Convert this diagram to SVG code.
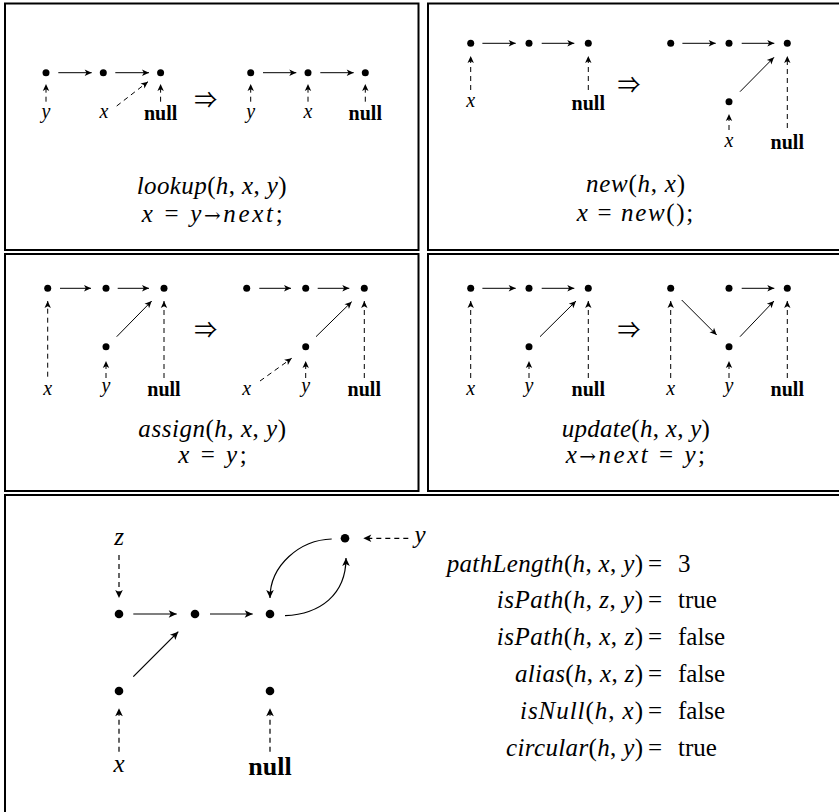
<svg xmlns="http://www.w3.org/2000/svg" width="839" height="812" viewBox="0 0 839 812">
<defs>
<marker id="ah" markerUnits="userSpaceOnUse" markerWidth="12" markerHeight="12" refX="0" refY="0" viewBox="-9 -6 12 12" orient="auto" overflow="visible">
<path d="M0,0 L-7,-3.2 L-5.2,0 L-7,3.2 Z" fill="#000" stroke="none"/>
</marker>
<marker id="ahb" markerUnits="userSpaceOnUse" markerWidth="12" markerHeight="12" refX="0" refY="0" viewBox="-10 -6 12 12" orient="auto" overflow="visible">
<path d="M0,0 L-8,-3.8 L-6,0 L-8,3.8 Z" fill="#000" stroke="none"/>
</marker>
</defs>
<style>
.frame{fill:none;stroke:#000;stroke-width:2}
.dot{fill:#000}
.e{stroke:#000;stroke-width:1;fill:none;marker-end:url(#ah)}
.d{stroke:#000;stroke-width:1;fill:none;stroke-dasharray:5 4;marker-end:url(#ah)}
.eb{stroke:#000;stroke-width:1.2;fill:none;marker-end:url(#ahb)}
.db{stroke:#000;stroke-width:1.2;fill:none;stroke-dasharray:5 4;marker-end:url(#ahb)}
text{font-family:"Liberation Serif","Times New Roman",serif;fill:#000}
.lab{font-size:20px;font-style:italic;text-anchor:middle}
.nul{font-size:20px;font-weight:bold;text-anchor:middle}
.labB{font-size:25px;font-style:italic;text-anchor:middle}
.nulB{font-size:26px;font-weight:bold;text-anchor:middle}
.f{font-size:25px;text-anchor:middle}
.g{font-size:25px}
.i{font-style:italic}
.ar{font-family:"DejaVu Serif",serif;font-size:20px}
.imp{font-family:"Noto Sans CJK JP","DejaVu Serif",sans-serif;font-size:23px;text-anchor:middle}
</style>

<g id="frames">
<rect class="frame" x="5" y="3.5" width="413.5" height="246.5"/>
<rect class="frame" x="428" y="3.5" width="420" height="246.5"/>
<rect class="frame" x="5" y="254" width="413.5" height="237"/>
<rect class="frame" x="428" y="254" width="420" height="237"/>
<rect class="frame" x="5" y="495" width="850" height="330"/>
</g>

<!-- Panel 1: lookup -->
<g id="p1-nodes">
<circle class="dot" cx="46" cy="72.7" r="3.5"/>
<circle class="dot" cx="103.3" cy="72.7" r="3.5"/>
<circle class="dot" cx="160.6" cy="72.7" r="3.5"/>
<circle class="dot" cx="250.7" cy="72.7" r="3.5"/>
<circle class="dot" cx="308" cy="72.7" r="3.5"/>
<circle class="dot" cx="365.3" cy="72.7" r="3.5"/>
</g>
<g id="p1-labels">
<text class="lab" x="46" y="118">y</text>
<text class="lab" x="104" y="118">x</text>
<text class="nul" x="160.6" y="119.5">null</text>
<text class="lab" x="250.7" y="118">y</text>
<text class="lab" x="308" y="118">x</text>
<text class="nul" x="365.3" y="119.5">null</text>
<text class="imp" x="205.7" y="108">⇒</text>
<text class="f" x="211.7" y="194" textLength="150" lengthAdjust="spacing"><tspan class="i">lookup</tspan>(<tspan class="i">h</tspan>, <tspan class="i">x</tspan>, <tspan class="i">y</tspan>)</text>
<text class="f" x="212.2" y="221.7" textLength="141" lengthAdjust="spacing"><tspan class="i">x</tspan> = <tspan class="i">y</tspan><tspan class="ar">→</tspan><tspan class="i">next</tspan>;</text>
</g>
<g id="p1-edges">
<line class="e" x1="58.3" y1="72.7" x2="91.7" y2="72.7"/>
<line class="e" x1="115.3" y1="72.7" x2="149" y2="72.7"/>
<line class="d" x1="46" y1="101.7" x2="46" y2="84"/>
<line class="d" x1="116.7" y1="106" x2="148" y2="81.7"/>
<line class="d" x1="160.6" y1="101.7" x2="160.6" y2="84"/>
<line class="e" x1="263" y1="72.7" x2="296.3" y2="72.7"/>
<line class="e" x1="320.3" y1="72.7" x2="353.7" y2="72.7"/>
<line class="d" x1="250.7" y1="101.7" x2="250.7" y2="84"/>
<line class="d" x1="308" y1="101.7" x2="308" y2="84"/>
<line class="d" x1="365.3" y1="101.7" x2="365.3" y2="84"/>
</g>

<!-- Panel 2: new -->
<g id="p2-nodes">
<circle class="dot" cx="470.7" cy="43.3" r="3.5"/>
<circle class="dot" cx="529" cy="43.3" r="3.5"/>
<circle class="dot" cx="588.3" cy="43.3" r="3.5"/>
<circle class="dot" cx="670.7" cy="43.3" r="3.5"/>
<circle class="dot" cx="729" cy="43.3" r="3.5"/>
<circle class="dot" cx="787.3" cy="43.3" r="3.5"/>
<circle class="dot" cx="729" cy="101.7" r="3.5"/>
</g>
<g id="p2-labels">
<text class="lab" x="470.7" y="106.5">x</text>
<text class="nul" x="588.3" y="109.5">null</text>
<text class="imp" x="629" y="93">⇒</text>
<text class="lab" x="729" y="146.5">x</text>
<text class="nul" x="787.3" y="149">null</text>
<text class="f" x="635.5" y="192" textLength="99" lengthAdjust="spacing"><tspan class="i">new</tspan>(<tspan class="i">h</tspan>, <tspan class="i">x</tspan>)</text>
<text class="f" x="635" y="221" textLength="116.6" lengthAdjust="spacing"><tspan class="i">x</tspan> = <tspan class="i">new</tspan>();</text>
</g>
<g id="p2-edges">
<line class="e" x1="482.4" y1="43.3" x2="515.7" y2="43.3"/>
<line class="e" x1="541.7" y1="43.3" x2="574.3" y2="43.3"/>
<line class="d" x1="470.7" y1="90" x2="470.7" y2="56"/>
<line class="d" x1="588.3" y1="90" x2="588.3" y2="56"/>
<line class="e" x1="682.4" y1="43.3" x2="715.7" y2="43.3"/>
<line class="e" x1="741.7" y1="43.3" x2="774.3" y2="43.3"/>
<line class="e" x1="740" y1="91.7" x2="774" y2="57.3"/>
<line class="d" x1="729" y1="130" x2="729" y2="114"/>
<line class="d" x1="787.3" y1="128" x2="787.3" y2="56"/>
</g>

<!-- Panel 3: assign -->
<g id="p3-nodes">
<circle class="dot" cx="47.7" cy="288.3" r="3.5"/>
<circle class="dot" cx="106" cy="288.3" r="3.5"/>
<circle class="dot" cx="164" cy="288.3" r="3.5"/>
<circle class="dot" cx="106" cy="346.7" r="3.5"/>
<circle class="dot" cx="246.7" cy="288.3" r="3.5"/>
<circle class="dot" cx="305.7" cy="288.3" r="3.5"/>
<circle class="dot" cx="364.3" cy="288.3" r="3.5"/>
<circle class="dot" cx="305.7" cy="346.7" r="3.5"/>
</g>
<g id="p3-labels">
<text class="lab" x="47.7" y="394.5">x</text>
<text class="lab" x="106" y="392">y</text>
<text class="nul" x="164" y="396">null</text>
<text class="imp" x="205.7" y="338">⇒</text>
<text class="lab" x="246.7" y="394.5">x</text>
<text class="lab" x="305.7" y="392">y</text>
<text class="nul" x="364.3" y="396">null</text>
<text class="f" x="212.2" y="436.5" textLength="147.7" lengthAdjust="spacing"><tspan class="i">assign</tspan>(<tspan class="i">h</tspan>, <tspan class="i">x</tspan>, <tspan class="i">y</tspan>)</text>
<text class="f" x="212.5" y="463" textLength="68.4" lengthAdjust="spacing"><tspan class="i">x</tspan> = <tspan class="i">y</tspan>;</text>
</g>
<g id="p3-edges">
<line class="e" x1="60" y1="288.3" x2="91" y2="288.3"/>
<line class="e" x1="117.7" y1="288.3" x2="149" y2="288.3"/>
<line class="d" x1="47.7" y1="376.7" x2="47.7" y2="301"/>
<line class="d" x1="106" y1="378" x2="106" y2="361"/>
<line class="d" x1="164" y1="378" x2="164" y2="301"/>
<line class="e" x1="116.7" y1="336.7" x2="151.7" y2="301"/>
<line class="e" x1="259.3" y1="288.3" x2="291" y2="288.3"/>
<line class="e" x1="317.7" y1="288.3" x2="349.3" y2="288.3"/>
<line class="d" x1="260" y1="381" x2="291.7" y2="358.3"/>
<line class="d" x1="305.7" y1="378" x2="305.7" y2="361"/>
<line class="d" x1="364.3" y1="378" x2="364.3" y2="301"/>
<line class="e" x1="316" y1="336.7" x2="351.7" y2="301.7"/>
</g>

<!-- Panel 4: update -->
<g id="p4-nodes">
<circle class="dot" cx="470.7" cy="288.3" r="3.5"/>
<circle class="dot" cx="529" cy="288.3" r="3.5"/>
<circle class="dot" cx="588.3" cy="288.3" r="3.5"/>
<circle class="dot" cx="529" cy="346.7" r="3.5"/>
<circle class="dot" cx="670.7" cy="288.3" r="3.5"/>
<circle class="dot" cx="729" cy="288.3" r="3.5"/>
<circle class="dot" cx="787.3" cy="288.3" r="3.5"/>
<circle class="dot" cx="729" cy="346.7" r="3.5"/>
</g>
<g id="p4-labels">
<text class="lab" x="470.7" y="394.5">x</text>
<text class="lab" x="529" y="392">y</text>
<text class="nul" x="588.3" y="396">null</text>
<text class="imp" x="629" y="338">⇒</text>
<text class="lab" x="670.7" y="394.5">x</text>
<text class="lab" x="729" y="392">y</text>
<text class="nul" x="787.3" y="396">null</text>
<text class="f" x="635.8" y="436.5" textLength="148.3" lengthAdjust="spacing"><tspan class="i">update</tspan>(<tspan class="i">h</tspan>, <tspan class="i">x</tspan>, <tspan class="i">y</tspan>)</text>
<text class="f" x="635.3" y="463" textLength="139.3" lengthAdjust="spacing"><tspan class="i">x</tspan><tspan class="ar">→</tspan><tspan class="i">next</tspan> = <tspan class="i">y</tspan>;</text>
</g>
<g id="p4-edges">
<line class="e" x1="482.4" y1="288.3" x2="515.7" y2="288.3"/>
<line class="e" x1="541.7" y1="288.3" x2="574.3" y2="288.3"/>
<line class="d" x1="470.7" y1="378" x2="470.7" y2="301"/>
<line class="d" x1="529" y1="378" x2="529" y2="361"/>
<line class="d" x1="588.3" y1="378" x2="588.3" y2="301"/>
<line class="e" x1="540" y1="336.7" x2="576" y2="301"/>
<line class="e" x1="741.7" y1="288.3" x2="774.3" y2="288.3"/>
<line class="e" x1="681.7" y1="300" x2="716.7" y2="335"/>
<line class="e" x1="740" y1="336.7" x2="774" y2="301"/>
<line class="d" x1="670.7" y1="378" x2="670.7" y2="301"/>
<line class="d" x1="729" y1="378" x2="729" y2="361"/>
<line class="d" x1="787.3" y1="378" x2="787.3" y2="301"/>
</g>

<!-- Panel 5: heap example -->
<g id="n-z"><circle class="dot" cx="119" cy="614" r="4.3"/></g>
<g id="n-a"><circle class="dot" cx="195" cy="614" r="4.3"/></g>
<g id="n-b"><circle class="dot" cx="270" cy="614" r="4.3"/></g>
<g id="n-y"><circle class="dot" cx="345" cy="538.3" r="4.3"/></g>
<g id="n-x"><circle class="dot" cx="119" cy="691" r="4.3"/></g>
<g id="n-null"><circle class="dot" cx="270" cy="691" r="4.3"/></g>
<g id="p5-labels">
<text class="labB" x="119" y="545">z</text>
<text class="labB" x="420" y="543">y</text>
<text class="labB" x="119" y="771.5">x</text>
<text class="nulB" x="270" y="775">null</text>
</g>
<g id="p5-edges">
<line class="db" x1="119" y1="555" x2="119" y2="598"/>
<line class="eb" x1="133.3" y1="614" x2="176.7" y2="614"/>
<line class="eb" x1="210" y1="614" x2="252.7" y2="614"/>
<line class="eb" x1="133.3" y1="676.7" x2="178.3" y2="631.7"/>
<line class="db" x1="119" y1="751.7" x2="119" y2="708.3"/>
<line class="db" x1="270" y1="751.7" x2="270" y2="708.3"/>
<line class="db" x1="408.3" y1="538.3" x2="363.3" y2="538.3"/>
<path class="eb" d="M331.7,539 C300,540 270,565 270,598"/>
<path class="eb" d="M285,615.7 C320,614 346,595 346,558"/>
</g>
<g id="p5-facts">
<text class="g" x="643" y="571.5" text-anchor="end" textLength="196.3" lengthAdjust="spacing"><tspan class="i">pathLength</tspan>(<tspan class="i">h</tspan>, <tspan class="i">x</tspan>, <tspan class="i">y</tspan>)</text>
<text class="g" x="648" y="571.5">=</text><text class="g" x="678" y="571.5">3</text>
<text class="g" x="643" y="608.3" text-anchor="end" textLength="146.3" lengthAdjust="spacing"><tspan class="i">isPath</tspan>(<tspan class="i">h</tspan>, <tspan class="i">z</tspan>, <tspan class="i">y</tspan>)</text>
<text class="g" x="648" y="608.3">=</text><text class="g" x="678" y="608.3">true</text>
<text class="g" x="643" y="645.1" text-anchor="end" textLength="146.3" lengthAdjust="spacing"><tspan class="i">isPath</tspan>(<tspan class="i">h</tspan>, <tspan class="i">x</tspan>, <tspan class="i">z</tspan>)</text>
<text class="g" x="648" y="645.1">=</text><text class="g" x="678" y="645.1">false</text>
<text class="g" x="643" y="681.9" text-anchor="end" textLength="128" lengthAdjust="spacing"><tspan class="i">alias</tspan>(<tspan class="i">h</tspan>, <tspan class="i">x</tspan>, <tspan class="i">z</tspan>)</text>
<text class="g" x="648" y="681.9">=</text><text class="g" x="678" y="681.9">false</text>
<text class="g" x="643" y="718.7" text-anchor="end" textLength="123" lengthAdjust="spacing"><tspan class="i">isNull</tspan>(<tspan class="i">h</tspan>, <tspan class="i">x</tspan>)</text>
<text class="g" x="648" y="718.7">=</text><text class="g" x="678" y="718.7">false</text>
<text class="g" x="643" y="755.5" text-anchor="end" textLength="137" lengthAdjust="spacing"><tspan class="i">circular</tspan>(<tspan class="i">h</tspan>, <tspan class="i">y</tspan>)</text>
<text class="g" x="648" y="755.5">=</text><text class="g" x="678" y="755.5">true</text>
</g>
</svg>
